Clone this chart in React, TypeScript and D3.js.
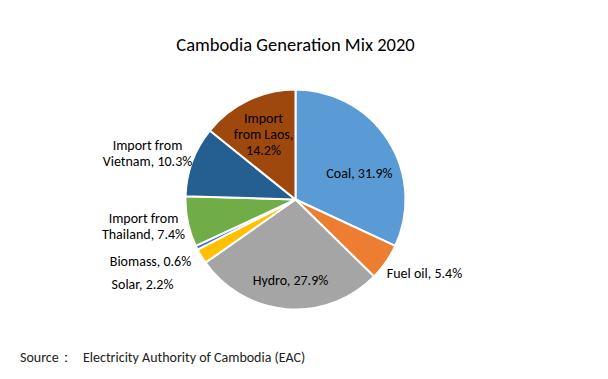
import React from "react";
import * as d3 from "d3";

const categories = [
  "Coal",
  "Fuel oil",
  "Hydro",
  "Solar",
  "Biomass",
  "Import from Thailand",
  "Import from Vietnam",
  "Import from Laos",
];
const values = [31.9, 5.4, 27.9, 2.2, 0.6, 7.4, 10.3, 14.2];
const labelLines = [
  ["Coal, 31.9%"],
  ["Fuel oil, 5.4%"],
  ["Hydro, 27.9%"],
  ["Solar, 2.2%"],
  ["Biomass, 0.6%"],
  ["Import from", "Thailand, 7.4%"],
  ["Import from", "Vietnam, 10.3%"],
  ["Import", "from Laos,", "14.2%"],
];
const colors = ["#5B9BD5", "#ED7D31", "#A5A5A5", "#FFC000", "#4472C4", "#70AD47", "#255E91", "#9E480E"];
// label centre offsets from pie centre (layout only)
const labelOffsets: [number, number][] = [
  [64, -26],
  [129, 74],
  [-5, 81],
  [-153, 85],
  [-145, 62],
  [-152, 26.5],
  [-148, -46],
  [-32, -65],
];

const W = 608;
const H = 379;
const cx = 295.5;
const cy = 199.5;
const R = 110;
const FONT = "Carlito, Calibri, 'Liberation Sans', 'Noto Sans', sans-serif";

export default function App() {
  const pie = d3.pie<number>().sort(null).value((d) => d)(values);
  const arc = d3.arc<d3.PieArcDatum<number>>().innerRadius(0).outerRadius(R);
  const lineH = 16;
  return (
    <svg width={W} height={H} style={{ position: "absolute", left: 0, top: 0, background: "#fff" }} fontFamily={FONT}>
      <rect width={W} height={H} fill="#fff" />
      <text x={cx} y={44} textAnchor="middle" dominantBaseline="central" fontSize={18.5} fill="#000">
        Cambodia Generation Mix 2020
      </text>
      <g transform={`translate(${cx},${cy})`}>
        {pie.map((p, i) => (
          <path key={categories[i]} d={arc(p) || ""} fill={colors[i]} stroke="#fff" strokeWidth={2} strokeLinejoin="round" />
        ))}
        {pie.map((p, i) => {
          const lines = labelLines[i];
          const [dx, dy] = labelOffsets[i];
          const start = dy - ((lines.length - 1) * lineH) / 2;
          return (
            <text key={"l" + i} textAnchor="middle" fontSize={14} fill="#000">
              {lines.map((t, j) => (
                <tspan key={j} x={dx} y={start + j * lineH} dominantBaseline="central">
                  {t}
                </tspan>
              ))}
            </text>
          );
        })}
      </g>
      <text x={20} y={357} dominantBaseline="central" fontSize={14} fill="#222">
        Source：
      </text>
      <text x={83} y={357} dominantBaseline="central" fontSize={14} fill="#222">
        Electricity Authority of Cambodia (EAC)
      </text>
    </svg>
  );
}
